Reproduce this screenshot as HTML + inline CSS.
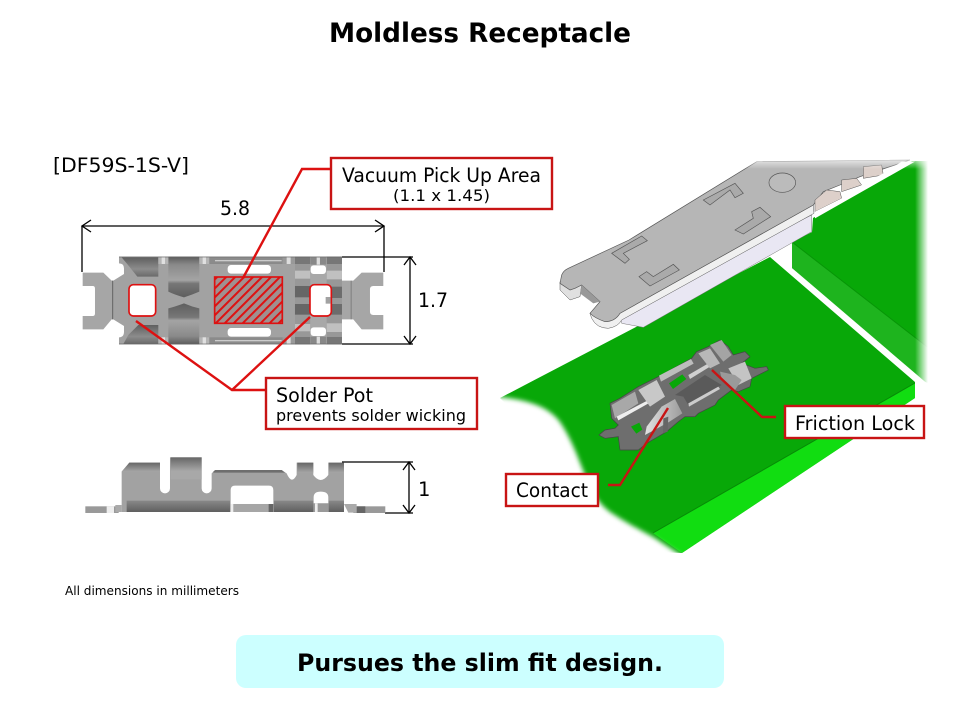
<!DOCTYPE html>
<html><head><meta charset="utf-8"><style>
html,body{margin:0;padding:0;background:#fff;width:960px;height:720px;overflow:hidden}
svg{display:block}
text{font-family:"DejaVu Sans","Liberation Sans",sans-serif;fill:#000}
</style></head><body>
<svg width="960" height="720" viewBox="0 0 960 720" xmlns="http://www.w3.org/2000/svg">
<defs>
<linearGradient id="fadeR" x1="0" x2="1" y1="0" y2="0"><stop offset="0" stop-color="#fff" stop-opacity="0"/><stop offset="1" stop-color="#fff"/></linearGradient>
<linearGradient id="fadeT" x1="0" x2="0" y1="0" y2="1"><stop offset="0" stop-color="#fff"/><stop offset="1" stop-color="#fff" stop-opacity="0"/></linearGradient>
<linearGradient id="cyl" x1="0" x2="0" y1="0" y2="1"><stop offset="0" stop-color="#5c5c5c"/><stop offset=".2" stop-color="#8a8a8a"/><stop offset=".58" stop-color="#a4a4a4"/><stop offset=".66" stop-color="#777"/><stop offset="1" stop-color="#5e5e5e"/></linearGradient>
<linearGradient id="cyl2" x1="0" x2="0" y1="0" y2="1"><stop offset="0" stop-color="#5e5e5e"/><stop offset=".34" stop-color="#777"/><stop offset=".42" stop-color="#a4a4a4"/><stop offset=".8" stop-color="#8a8a8a"/><stop offset="1" stop-color="#5c5c5c"/></linearGradient>
<linearGradient id="tri" x1="0" x2="0" y1="0" y2="1"><stop offset="0" stop-color="#5f5f5f"/><stop offset=".6" stop-color="#8c8c8c"/><stop offset="1" stop-color="#6a6a6a"/></linearGradient>
<linearGradient id="sideG" x1="0" x2="0" y1="0" y2="1"><stop offset="0" stop-color="#888"/><stop offset="1" stop-color="#5f5f5f"/></linearGradient>
<linearGradient id="topG" x1="0" x2="0" y1="0" y2="1"><stop offset="0" stop-color="#666"/><stop offset="1" stop-color="#a6a6a6"/></linearGradient>
<linearGradient id="cont" x1="0" x2="1" y1="0" y2="0"><stop offset="0" stop-color="#e2e2e2"/><stop offset="1" stop-color="#9c9c9c"/></linearGradient>
<pattern id="hatch" width="19" height="19" patternUnits="userSpaceOnUse" patternTransform="rotate(45)"><rect width="19" height="19" fill="#a09090"/><rect width="6" height="19" fill="#dd1111"/></pattern>
<filter id="bl" x="-10%" y="-10%" width="120%" height="120%"><feGaussianBlur stdDeviation="2.4"/></filter>
</defs>
<rect width="960" height="720" fill="#fff"/>

<!-- title -->
<text x="329" y="42" font-size="27" font-weight="bold" textLength="302" lengthAdjust="spacingAndGlyphs">Moldless Receptacle</text>
<text x="53" y="172" font-size="19.5" textLength="136" lengthAdjust="spacingAndGlyphs">[DF59S-1S-V]</text>

<!-- top view -->
<g transform="translate(60,200) scale(.3333)">
<path d="M68 218H130L155 242H190V358H155L130 388H68V348H98Q105 348 105 340V266Q105 258 98 258H68Z" fill="#a6a6a6"/>
<path d="M970 218H905L880 242H845V358H880L905 388H970V345H940Q930 345 930 335V268Q930 258 940 258H970Z" fill="#a6a6a6"/>
<rect x="156" y="242" width="4" height="116" fill="#6e6e6e"/>
<rect x="872" y="242" width="3" height="116" fill="#7e7e7e"/>
<path d="M177 170H845V433H177V412Q192 412 192 395V378L160 358V242L192 222V205Q192 190 177 190Z" fill="#a2a2a2"/>
<path d="M185 172H295V230H232L200 190Z" fill="url(#tri)"/>
<path d="M190 432H295V375H235L205 405Z" fill="url(#tri)"/>
<path d="M325 170H418V275Q395 285 372 292Q345 285 325 275Z" fill="url(#cyl)"/>
<path d="M325 325Q345 320 372 310Q395 320 418 325V433H325Z" fill="url(#cyl2)"/>
<rect x="295" y="170" width="30" height="22" fill="#b5b5b5"/><rect x="295" y="412" width="30" height="21" fill="#b5b5b5"/>
<rect x="305" y="170" width="10" height="22" fill="#e0e0e0"/><rect x="305" y="412" width="10" height="21" fill="#e0e0e0"/>
<rect x="418" y="170" width="30" height="22" fill="#b5b5b5"/><rect x="418" y="412" width="30" height="21" fill="#b5b5b5"/>
<rect x="428" y="170" width="10" height="22" fill="#e0e0e0"/><rect x="428" y="412" width="10" height="21" fill="#e0e0e0"/>
<rect x="448" y="172" width="220" height="20" fill="#8b8b8b"/><rect x="448" y="412" width="220" height="20" fill="#8b8b8b"/>
<rect x="465" y="180" width="200" height="4" fill="#ccc"/><rect x="465" y="420" width="200" height="4" fill="#ccc"/>
<rect x="668" y="170" width="36" height="22" fill="#999"/><rect x="668" y="412" width="36" height="21" fill="#999"/>
<rect x="680" y="170" width="12" height="22" fill="#ddd"/><rect x="680" y="412" width="12" height="21" fill="#ddd"/>
<rect x="503" y="195" width="130" height="26" rx="10" fill="#fff"/>
<rect x="503" y="384" width="130" height="26" rx="10" fill="#fff"/>
<rect x="705" y="170" width="46" height="263" fill="#989898"/>
<rect x="705" y="170" width="46" height="22" fill="#777"/><rect x="705" y="411" width="46" height="22" fill="#777"/>
<rect x="705" y="212" width="46" height="24" fill="#c0c0c0"/><rect x="705" y="372" width="46" height="22" fill="#c0c0c0"/>
<rect x="705" y="258" width="46" height="34" fill="#666"/><rect x="705" y="312" width="46" height="32" fill="#666"/>
<rect x="800" y="170" width="46" height="263" fill="#989898"/>
<rect x="800" y="170" width="46" height="22" fill="#777"/><rect x="800" y="411" width="46" height="22" fill="#777"/>
<rect x="800" y="212" width="46" height="26" fill="#c0c0c0"/><rect x="800" y="370" width="46" height="26" fill="#c0c0c0"/>
<rect x="800" y="260" width="46" height="34" fill="#6c6c6c"/><rect x="800" y="312" width="46" height="32" fill="#6c6c6c"/>
<rect x="751" y="170" width="49" height="263" fill="#a8a8a8"/>
<rect x="752" y="172" width="46" height="22" fill="#888"/><rect x="752" y="410" width="46" height="22" fill="#888"/>
<rect x="770" y="172" width="10" height="22" fill="#ddd"/><rect x="770" y="410" width="10" height="22" fill="#ddd"/>
<rect x="752" y="196" width="46" height="26" rx="9" fill="#fff"/><rect x="752" y="382" width="46" height="26" rx="9" fill="#fff"/>
<rect x="177" y="170" width="668" height="2" fill="#666"/><rect x="177" y="431" width="668" height="2" fill="#666"/>
<rect x="207" y="254" width="80" height="94" rx="13" fill="#fff" stroke="#dd1111" stroke-width="5"/>
<rect x="750" y="254" width="64" height="94" rx="13" fill="#fff" stroke="#dd1111" stroke-width="5"/>
<rect x="797" y="291" width="15" height="20" fill="#a2a2a2"/>
<rect x="464" y="231" width="203" height="139" fill="url(#hatch)" stroke="#dd1111" stroke-width="5"/>
</g>

<!-- dims top -->
<g stroke="#000" stroke-width="1.3" fill="none">
<path d="M82 226H384M82 226V272M384 226V272"/>
<path d="M91 220L82 226L91 232M375 220L384 226L375 232"/>
<path d="M342 257H413M342 344H413M410 257V344"/>
<path d="M404 265L410 257L416 265M404 336L410 344L416 336"/>
<path d="M342 462H413M385 513H413M409 462V513"/>
<path d="M403 470L409 462L415 470M403 505L409 513L415 505"/>
</g>
<text x="220" y="215" font-size="19.5" textLength="30" lengthAdjust="spacingAndGlyphs">5.8</text>
<text x="418" y="307" font-size="19.5" textLength="30" lengthAdjust="spacingAndGlyphs">1.7</text>
<text x="418" y="496" font-size="19.5">1</text>

<!-- side view -->
<g transform="translate(70,440) scale(.3333)">
<rect x="46" y="199" width="100" height="20" fill="#999"/><rect x="110" y="199" width="22" height="20" fill="#eee"/>
<rect x="850" y="199" width="96" height="20" fill="#999"/><rect x="860" y="199" width="26" height="20" fill="#666"/>
<path d="M136 195H155V216H136ZM822 192H860V218H835Z" fill="#aaa"/>
<path d="M155 95L178 68H270V145A15 15 0 0 0 300 145V52H395V145A15 15 0 0 0 425 145V100L435 90H635L650 100Q665 135 680 105V68H730V105Q752 135 775 105V68H822V216H155V165L168 180H155Z" fill="#a2a2a2"/>
<path d="M178 68H270V95H155Z" fill="url(#topG)"/>
<rect x="302" y="52" width="93" height="40" fill="url(#topG)"/><rect x="302" y="92" width="93" height="26" fill="#a8a8a8"/>
<rect x="682" y="68" width="48" height="30" fill="url(#topG)"/><rect x="776" y="68" width="46" height="30" fill="url(#topG)"/>
<path d="M430 98V95L436 90H635L645 98Z" fill="#6e6e6e"/>
<rect x="170" y="182" width="310" height="34" fill="url(#sideG)"/>
<rect x="612" y="182" width="118" height="34" fill="url(#sideG)"/>
<rect x="776" y="182" width="46" height="34" fill="url(#sideG)"/>
<path d="M482 192V150Q482 137 495 137H597Q610 137 610 150V192Z" fill="#fff"/>
<rect x="482" y="192" width="128" height="24" fill="#a6a6a6"/><rect x="596" y="192" width="14" height="24" fill="#666"/><rect x="482" y="192" width="8" height="24" fill="#eee"/>
<path d="M731 190V172Q731 155 752 155Q775 155 775 172V190Z" fill="#fff"/>
<rect x="731" y="190" width="45" height="26" fill="#999"/><rect x="735" y="190" width="8" height="26" fill="#eee"/>
</g>

<!-- right image: green upper block -->
<path d="M813 218L912 161H930V382L792 268V242L812 232Z" fill="#08a808"/>
<path d="M792 242L930 349V386L792 268Z" fill="#1eb41e"/>
<path d="M792 242L930 349" stroke="#079507" stroke-width="1" fill="none"/>
<!-- main board: left corner tucked under the blurred white cut-out -->
<path d="M500 398L770 257L915 382V398L682 553L655 552L595 515L568 470L545 425L510 408Z" fill="#08a808"/>
<path d="M653 533L915 383V398L682 553Z" fill="#11dd11"/>
<path d="M653 533L915 383" stroke="#078a07" stroke-width="1" fill="none"/>
<path d="M440 396L500 397C525 400 547 405 560 422C572 440 578 458 583 470C590 490 597 502 610 512C625 522 640 530 653 537L682 556L690 600L440 600Z" fill="#fff" filter="url(#bl)"/>
<rect x="915" y="150" width="13" height="240" fill="url(#fadeR)"/>
<rect x="928" y="150" width="32" height="260" fill="#fff"/>
<path d="M915 382V400L932 412V384L925 382Z" fill="#fff"/>

<!-- plate -->
<g transform="translate(540,150) scale(.3333)">
<path d="M245 520L310 532L815 245V195L240 490Z" fill="#e9e7f3" stroke="#777" stroke-width="1.5"/>
<path d="M240 490L820 165L822 190L245 510Q235 530 205 535Q170 535 155 505L150 490L170 470Z" fill="#f0f0f0" stroke="#555" stroke-width="1.5"/>
<path d="M60 395V420L90 450L120 440L125 405L90 420Z" fill="#e0e0e0" stroke="#555" stroke-width="1.5"/>
<path d="M65 375Q70 362 85 355L267 270L650 35L1110 30L1020 60L960 80L900 105L850 125L820 165L240 490Q225 515 195 515Q165 505 150 490L180 455L125 405L105 415L90 420L60 400Z" fill="#b6b6b6" stroke="#555" stroke-width="2"/>
<path d="M125 405L180 455L160 460L120 430Z" fill="#999"/>
<path d="M825 150L860 120L900 125L905 145L825 185ZM905 90L950 85L965 105L905 125ZM970 50L1025 45L1030 75L970 85Z" fill="#ddd0ca" stroke="#555" stroke-width="1.5"/>
<path d="M1030 70L1085 35H1125L825 205L825 185L905 145L965 105Z" fill="#fff"/>
<ellipse cx="727" cy="98" rx="40" ry="29" fill="#bbb" stroke="#555" stroke-width="2"/>
<g fill="#aaa" stroke="#555" stroke-width="2">
<path d="M490 150L585 100L610 130L585 143L570 120L510 165Z"/>
<path d="M585 240L640 205L635 185L660 172L692 200L610 252Z"/>
<path d="M215 310L305 258L322 272L250 310L268 328L255 340Z"/>
<path d="M297 380L320 365L340 380L400 343L418 360L330 408Z"/>
</g>
</g>
<rect x="740" y="155" width="190" height="14" fill="url(#fadeT)"/>

<!-- contact part -->
<g transform="translate(595,335) scale(.3333)">
<path d="M45 205L75 190L130 155L190 125L290 70L305 50L340 35L375 15L400 35L415 60L450 50L465 65L440 85L480 100L515 95L520 105L480 125L470 130L465 155L430 170L410 165L370 195L360 210L310 235L300 245L270 245L250 260L215 290L155 325L130 345L75 345L70 305L30 310L12 300L30 285L60 280L70 270L50 250Z" fill="#6e6e6e" stroke="#454545" stroke-width="2"/>
<path d="M222 145L262 118L274 132L234 162Z" fill="#08a808"/>
<path d="M108 275L133 263L142 284L124 296Z" fill="#08a808"/>
<path d="M192 122L288 72L296 86L198 140Z" fill="#bdbdbd"/>
<path d="M280 120L340 85L345 95L285 132Z" fill="#d0d0d0"/>
<path d="M50 210L120 170L130 205L60 250Z" fill="#a8a8a8"/>
<path d="M65 245L170 190L173 198L70 256Z" fill="#eee"/>
<path d="M130 165L185 135L210 185L165 215Z" fill="#c8c8c8"/>
<path d="M240 180L330 120L380 150L280 210L265 185Z" fill="#5a5a5a"/>
<path d="M150 300L155 275L200 215L240 192L262 235L220 262Z" fill="url(#cont)"/>
<path d="M205 250L220 245L218 290L204 295Z" fill="#666"/>
<path d="M280 205L370 155L375 162L282 215Z" fill="#ccc"/>
<path d="M310 55L345 40L375 85L345 100Z" fill="#b8b8b8"/>
<path d="M345 30L380 15L410 60L385 80Z" fill="#a4a4a4"/>
<path d="M400 100L450 80L470 130L430 150Z" fill="#c4c4c4"/>
<path d="M375 110L420 120L440 135L420 165L380 130Z" fill="#9a9a9a"/>
</g>

<!-- red callouts -->
<g fill="none" stroke="#dd1111" stroke-width="2.4">
<path d="M331 169H302L243 278"/>
<path d="M266 390H232L136 321M232 390L310 317"/>
</g>
<g fill="none" stroke="#c81414" stroke-width="2.4">
<path d="M608 485H620L668 408"/>
<path d="M776 417H762L712 370"/>
</g>
<g fill="#fff" stroke="#c81414" stroke-width="2.4">
<rect x="331" y="158" width="221" height="51"/>
<rect x="266" y="378" width="211" height="51"/>
<rect x="506" y="474" width="92" height="32"/>
<rect x="785" y="406" width="139" height="32"/>
</g>
<text x="342" y="182" font-size="19.5" textLength="199" lengthAdjust="spacingAndGlyphs">Vacuum Pick Up Area</text>
<text x="393" y="201" font-size="16" textLength="97" lengthAdjust="spacingAndGlyphs">(1.1 x 1.45)</text>
<text x="276" y="402" font-size="19.5" textLength="97" lengthAdjust="spacingAndGlyphs">Solder Pot</text>
<text x="276" y="421" font-size="16" textLength="190" lengthAdjust="spacingAndGlyphs">prevents solder wicking</text>
<text x="516" y="497" font-size="19.5" textLength="72" lengthAdjust="spacingAndGlyphs">Contact</text>
<text x="795" y="430" font-size="19.5" textLength="120" lengthAdjust="spacingAndGlyphs">Friction Lock</text>

<text x="65" y="595" font-size="12.5" textLength="174" lengthAdjust="spacingAndGlyphs">All dimensions in millimeters</text>

<rect x="236" y="635" width="488" height="53" rx="10" fill="#ccffff"/>
<text x="297" y="671" font-size="24" font-weight="bold" textLength="366" lengthAdjust="spacingAndGlyphs">Pursues the slim fit design.</text>
</svg>
</body></html>
